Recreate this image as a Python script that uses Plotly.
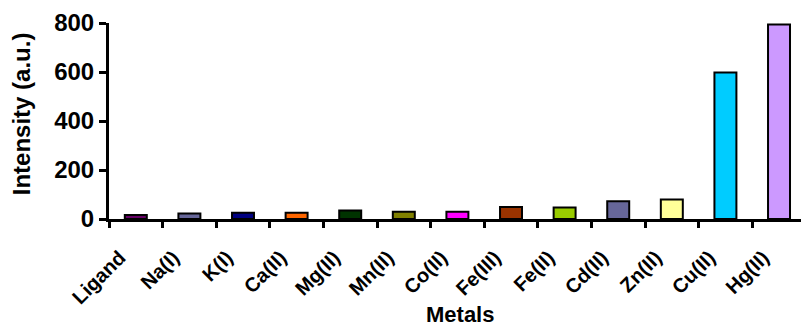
import plotly.graph_objects as go

# Fluorescence response of the ligand towards different metal ions
metals = ["Ligand", "Na(I)", "K(I)", "Ca(II)", "Mg(II)", "Mn(II)", "Co(II)",
          "Fe(III)", "Fe(II)", "Cd(II)", "Zn(II)", "Cu(II)", "Hg(II)"]
intensity = [16, 22, 26, 26, 35, 30, 30, 49, 47, 72, 80, 598, 794]
bar_colors = ["#660066", "#666699", "#000080", "#FF6600", "#003300", "#808000",
              "#FF00FF", "#993300", "#99CC00", "#666699", "#FFFF99", "#00CCFF",
              "#CC99FF"]
y_ticks = [0, 200, 400, 600, 800]

FONT = "Liberation Sans, Arial, sans-serif"

fig = go.Figure(
    go.Bar(
        x=metals,
        y=intensity,
        marker=dict(color=bar_colors, line=dict(color="black", width=2)),
        width=0.41,
    )
)

fig.update_layout(
    width=801,
    height=326,
    margin=dict(l=109, r=0, t=23, b=107),
    plot_bgcolor="white",
    paper_bgcolor="white",
    showlegend=False,
    font=dict(family=FONT, color="black", weight="bold"),
    annotations=[
        dict(text="Intensity (a.u.)", xref="paper", yref="paper",
             x=-0.127, y=0.535, xanchor="center", yanchor="middle",
             textangle=-90, showarrow=False,
             font=dict(size=24, family=FONT, weight="bold")),
        dict(text="Metals", xref="paper", yref="paper",
             x=0.507, y=-0.488, xanchor="center", yanchor="middle",
             showarrow=False,
             font=dict(size=22, family=FONT, weight="bold")),
    ],
)

fig.update_xaxes(
    range=[-0.5, 12.41],
    showline=True, linecolor="black", linewidth=3,
    ticks="outside", tickson="boundaries", ticklen=6, tickwidth=3,
    tickcolor="black", tickangle=-45,
    ticklabelstandoff=16, ticklabelshift=-16,
    tickfont=dict(size=20, family=FONT, weight="bold"),
    showgrid=False, zeroline=False,
)

fig.update_yaxes(
    range=[0, 800],
    tickvals=y_ticks,
    ticksuffix="\u00a0\u00a0\u00a0",
    showline=True, linecolor="black", linewidth=3,
    ticks="outside", ticklen=7, tickwidth=3, tickcolor="black",
    tickfont=dict(size=24, family=FONT, weight="bold"),
    showgrid=False, zeroline=False,
)

fig.write_html("out.html")
